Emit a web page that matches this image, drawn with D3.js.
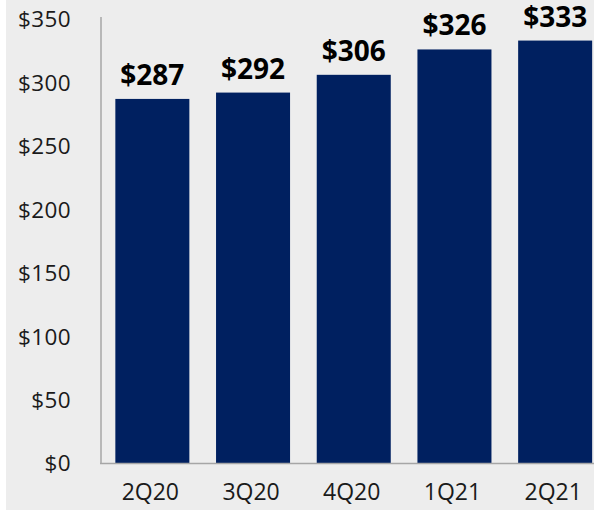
<!DOCTYPE html>
<html><head><meta charset="utf-8">
<script src="https://cdn.jsdelivr.net/npm/d3@7"></script>
<style>html,body{margin:0;padding:0;background:#fff;}svg{display:block;}</style>
</head><body>
<script>
const categories = ["2Q20","3Q20","4Q20","1Q21","2Q21"];
const values = [287,292,306,326,333];
const yTicks = [0,50,100,150,200,250,300,350];

const W = 594, H = 511;
const svg = d3.select("body").append("svg").attr("width",W).attr("height",H);
svg.append("rect").attr("x",6).attr("y",0).attr("width",W-6).attr("height",510).attr("fill","#ededed");

const y = d3.scaleLinear().domain([0,350]).range([463,19]);
const x = d3.scaleBand().domain(categories).range([102,605.5]).paddingInner(0.265).paddingOuter(0.1325);

const font = "'Open Sans', 'Noto Sans', sans-serif";

svg.selectAll("rect.bar").data(values).enter().append("rect")
  .attr("class","bar")
  .attr("x",(d,i)=>x(categories[i]))
  .attr("width",x.bandwidth())
  .attr("y",d=>y(d))
  .attr("height",d=>y(0)-y(d))
  .attr("fill","#002060");

// axes
const yAxis = d3.axisLeft(y).tickValues(yTicks).tickSize(0).tickPadding(30).tickFormat(d=>"$"+d);
const gy = svg.append("g").attr("transform","translate(101,0)").call(yAxis);
gy.select(".domain").remove();
gy.selectAll("text").attr("font-family",font).attr("font-size",22.5).attr("letter-spacing","0.4px").attr("fill","#1a1a1a").attr("dy","0.35em");

svg.append("line").attr("x1",101).attr("x2",101).attr("y1",17).attr("y2",y(0)+0.5).attr("stroke","#a6a6a6").attr("stroke-width",1.5);

const xAxis = d3.axisBottom(x).tickSize(0).tickPadding(21);
const gx = svg.append("g").attr("transform",`translate(-2,${y(0)})`).call(xAxis);
gx.select(".domain").remove();
gx.selectAll("text").attr("font-family",font).attr("font-size",23).attr("fill","#1a1a1a");
svg.append("line").attr("x1",100).attr("x2",W).attr("y1",y(0)+0.5).attr("y2",y(0)+0.5).attr("stroke","#a6a6a6").attr("stroke-width",1.5);

svg.selectAll("text.val").data(values).enter().append("text")
  .attr("class","val")
  .attr("x",(d,i)=>x(categories[i])+x.bandwidth()/2)
  .attr("y",d=>y(d)-14)
  .attr("text-anchor","middle")
  .attr("font-family",font).attr("font-weight","bold").attr("font-size",28)
  .attr("fill","#000")
  .text(d=>"$"+d);
</script>
</body></html>
